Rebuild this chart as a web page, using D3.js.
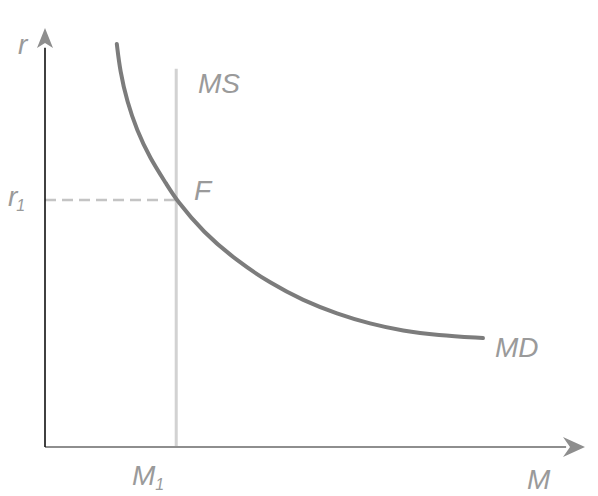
<!DOCTYPE html>
<html><head><meta charset="utf-8">
<script src="https://cdn.jsdelivr.net/npm/d3@7"></script>
<style>
html,body{margin:0;padding:0;background:#fff;}
svg{display:block;}
text{font-family:"Liberation Sans",Arial,sans-serif;font-style:italic;fill:#9a9a9a;}
</style></head>
<body><svg id="c" width="598" height="496"></svg>
<script>
// Money demand curve (M, r) in abstract units
const mdM = [13.3, 13.9, 15.2, 17.0, 19.4, 22.6, 24.3, 29.3, 35.6, 41.7, 47.8, 54.1, 60.2, 66.3, 72.6, 81.1];
const mdR = [96.9, 90.4, 83.0, 76.2, 69.5, 63.0, 59.4, 51.6, 44.7, 39.4, 35.2, 32.0, 29.6, 27.9, 26.9, 26.2];
// Money supply (vertical) and equilibrium
const msM = 24.3;
const msTop = 90.9;
const r1 = 59.4;
const labels = {yAxis: "r", xAxis: "M", ms: "MS", md: "MD", eq: "F", rLab: "r", rSub: "1", mLab: "M", mSub: "1"};

const svg = d3.select("#c");
const x = d3.scaleLinear().domain([0, 100]).range([45, 585]);
const y = d3.scaleLinear().domain([0, 100]).range([447, 31]);

// MS vertical line
svg.append("line").attr("x1", x(msM)).attr("x2", x(msM)).attr("y1", y(0)).attr("y2", y(msTop))
  .attr("stroke", "#d2d2d2").attr("stroke-width", 3);

// dashed r1
svg.append("line").attr("x1", x(0)).attr("x2", x(msM)).attr("y1", y(r1)).attr("y2", y(r1))
  .attr("stroke", "#c4c4c4").attr("stroke-width", 2.5).attr("stroke-dasharray", "11,6");

// MD curve
const pts = mdM.map((m, i) => [m, mdR[i]]);
svg.append("path").datum(pts)
  .attr("d", d3.line().x(d => x(d[0])).y(d => y(d[1])).curve(d3.curveBasis))
  .attr("fill", "none").attr("stroke", "#7c7c7c").attr("stroke-width", 4).attr("stroke-linecap", "round");

// x axis
svg.append("line").attr("x1", x(0)).attr("x2", x(96.5)).attr("y1", y(0)).attr("y2", y(0))
  .attr("stroke", "#8e8e8e").attr("stroke-width", 2);
svg.append("path").attr("d", `M${x(100)},${y(0)} L${x(100)-22},${y(0)-10} L${x(100)-15},${y(0)} L${x(100)-22},${y(0)+10} Z`)
  .attr("fill", "#8e8e8e");
// y axis
svg.append("line").attr("x1", x(0)).attr("x2", x(0)).attr("y1", y(0)).attr("y2", y(96))
  .attr("stroke", "#111").attr("stroke-width", 1.6);
svg.append("path").attr("d", `M${x(0)},${y(100)-3} L${x(0)-8},${y(100)+17} L${x(0)},${y(100)+12} L${x(0)+8},${y(100)+17} Z`)
  .attr("fill", "#8e8e8e");

const fs = 28;
function txt(px, py, s, size) {
  return svg.append("text").attr("x", px).attr("y", py).attr("font-size", size || fs).text(s);
}
txt(18, 54, labels.yAxis);
txt(198, 93, labels.ms);
txt(194, 200, labels.eq);
txt(495, 357, labels.md);
txt(527, 489, labels.xAxis);
const rt = svg.append("text").attr("x", 8).attr("y", 206).attr("font-size", fs);
rt.append("tspan").text(labels.rLab);
rt.append("tspan").attr("font-size", 16).attr("dy", 5).attr("dx", -1).text(labels.rSub);
const mt = svg.append("text").attr("x", 132).attr("y", 485).attr("font-size", fs);
mt.append("tspan").text(labels.mLab);
mt.append("tspan").attr("font-size", 16).attr("dy", 5).text(labels.mSub);
</script></body></html>
